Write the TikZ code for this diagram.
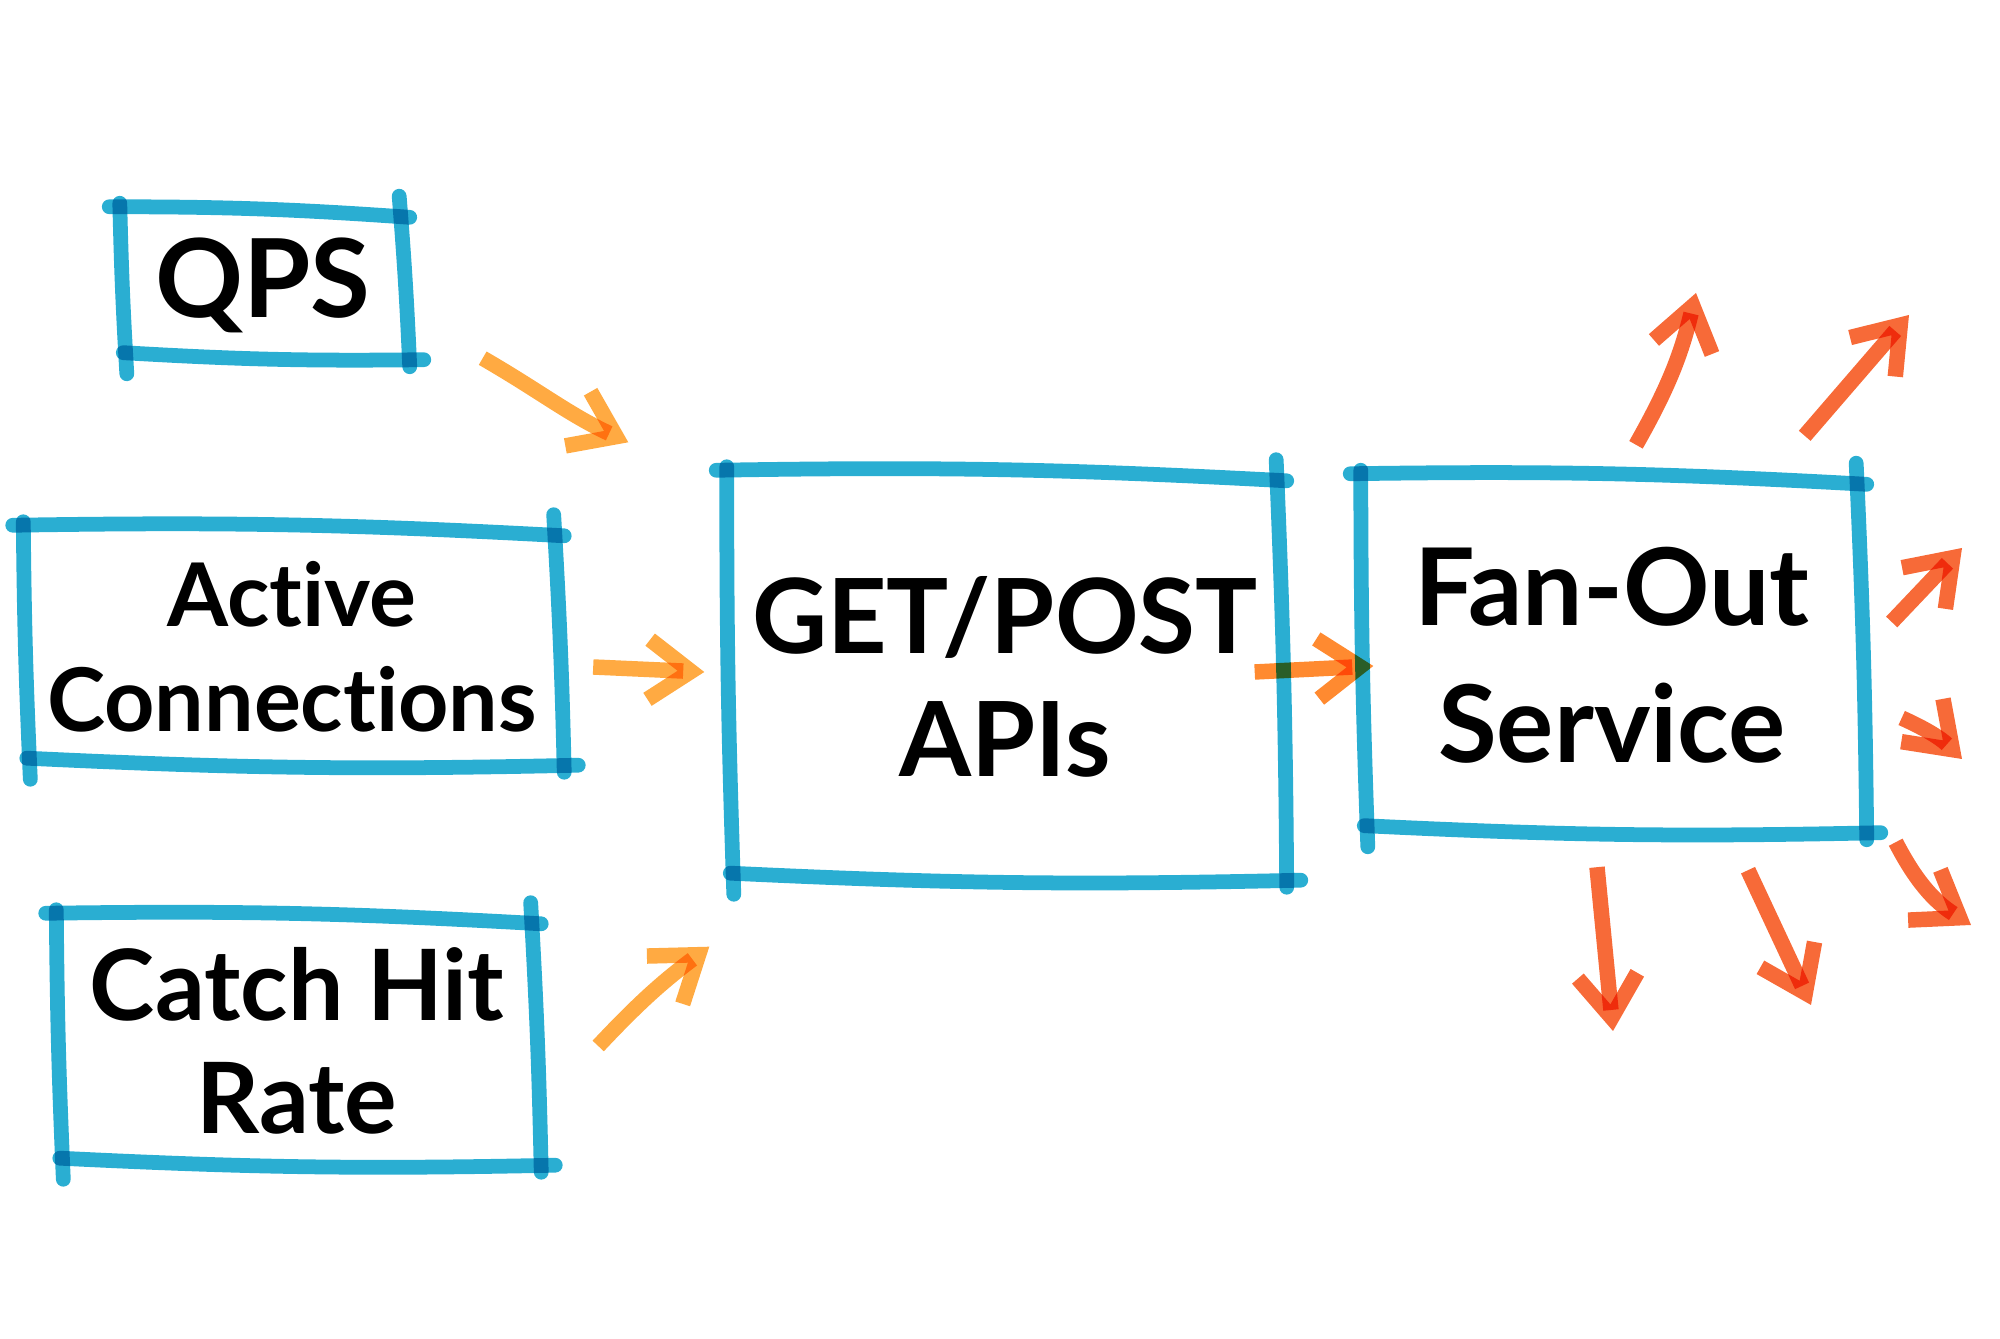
\documentclass[tikz,border=0pt]{standalone}
\usepackage{fontspec}
\setmainfont{Lato}[Ligatures={NoCommon,NoRequired,NoContextual}]
\usepackage{tikz}
\usetikzlibrary{arrows.meta,calc,positioning}

\definecolor{penblue}{RGB}{42,174,210}
\definecolor{inorange}{RGB}{255,170,66}
\definecolor{midorange}{RGB}{255,138,48}
\definecolor{outorange}{RGB}{247,106,56}

\begin{document}
\begin{tikzpicture}[x=0.1mm, y=-0.1mm,
        box/.style={rectangle, inner sep=0pt, align=center},
        pen/.style={draw=penblue, line width=4.2pt, line cap=round},
        inarrow/.style={draw=inorange, line width=4.4pt, -{Straight Barb[length=12pt,width=17pt]}},
        midarrow/.style={draw=midorange, line width=4.4pt, -{Straight Barb[length=12pt,width=17pt]}},
        outarrow/.style={draw=outorange, line width=4.4pt, -{Straight Barb[length=12pt,width=17pt]}}
    ]

    \def\sketchbox#1{%
        \draw[pen] ([shift={(-4pt,2pt)}]#1.north west) to[bend left=2] ([shift={(2pt,-1pt)}]#1.north east);
        \draw[pen] ([shift={(-1pt,5pt)}]#1.north east) to[bend left=1] ([shift={(2pt,-3pt)}]#1.south east);
        \draw[pen] ([shift={(6pt,-1pt)}]#1.south east) to[bend left=2] ([shift={(0pt,1pt)}]#1.south west);
        \draw[pen] ([shift={(1pt,-5pt)}]#1.south west) to[bend left=1] ([shift={(-1pt,3pt)}]#1.north west);
    }

    \useasboundingbox (0,0) rectangle (2000,1339);

    % Input metrics
    \node[box, minimum width=2.78cm, minimum height=1.41cm, font={\bfseries\fontsize{31}{37}\selectfont}] (qps) at (263,285) {QPS};
    \node[box, minimum width=5.29cm, minimum height=2.28cm, font={\bfseries\fontsize{25}{30}\selectfont}] (act) at (292,647) {Active\\Connections};
    \node[box, minimum width=4.73cm, minimum height=2.40cm, font={\bfseries\fontsize{28}{32}\selectfont}] (cat) at (297,1041) {Catch Hit\\Rate};

    % APIs and fan-out
    \node[box, minimum width=5.48cm, minimum height=3.98cm, font={\bfseries\fontsize{29.5}{35}\selectfont}] (api) at (1005,677) {GET/POST\\APIs};
    \node[box, minimum width=4.94cm, minimum height=3.47cm, font={\bfseries\fontsize{30.5}{39}\selectfont}] (fan) at (1612,655) {Fan-Out\\Service};

    \begin{scope}[blend mode=multiply]
    \foreach \n in {qps,act,cat,api,fan} {
        \sketchbox{\n}
    }

    % Arrows into the APIs
    \draw[inarrow] ($(qps.south east)+(80,2)$) to[out=-30,in=155] ($(api.north west)+(-102,-35)$);
    \draw[inarrow] ($(act.east)+(36,20)$) -- ($(api.west)+(-26,-5)$);
    \draw[inarrow] ($(cat.east)+(64,5)$) to[bend left=5] ($(api.south west)+(-21,70)$);
    \draw[midarrow] ($(api.east)+(-25,-5)$) -- ($(fan.west)+(9,11)$);

    % Fan-out arrows
    \foreach \a/\dx/\dy/\ex/\ey/\b [count=\i] in {
        north/24/-36/1696/293/-8,
        north east/-55/-45/1909/315/0,
        east/32/-33/1962/548/0,
        east/42/63/1962/759/10,
        south east/36/13/1971/925/-15,
        south/-15/38/1613/1031/0,
        south/136/41/1811/1005/0} {
        \coordinate (out\i) at (\ex,\ey);
        \draw[outarrow] ($(fan.\a)+(\dx,\dy)$) to[bend left=\b] (out\i);
    }
    \end{scope}

\end{tikzpicture}
\end{document}
